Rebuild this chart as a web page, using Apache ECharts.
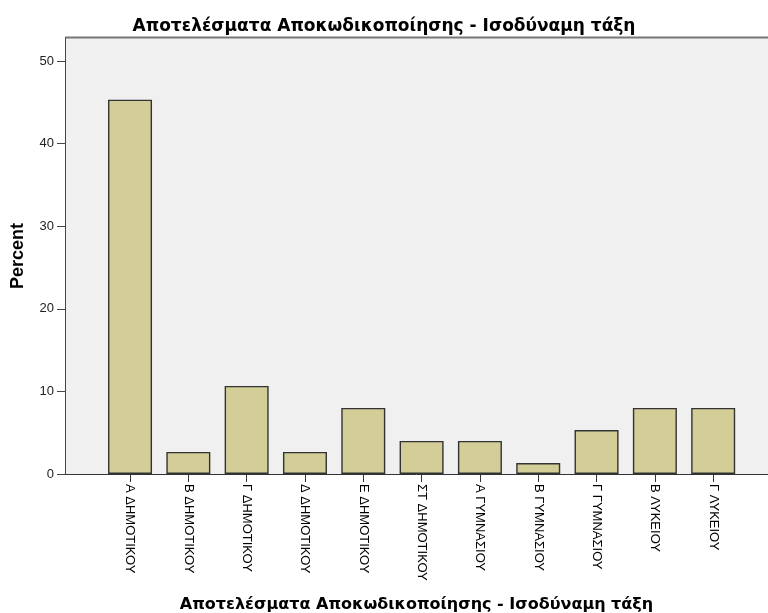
<!DOCTYPE html>
<html>
<head>
<meta charset="utf-8">
<script src="https://cdn.jsdelivr.net/npm/echarts@6/dist/echarts.min.js"></script>
<style>
  html, body { margin: 0; padding: 0; background: #fff; }
  #chart { width: 768px; height: 613px; }
</style>
</head>
<body>
<div id="chart"></div>
<script>
// data (percent, n = 75)
var categories = ['Α ΔΗΜΟΤΙΚΟΥ', 'Β ΔΗΜΟΤΙΚΟΥ', 'Γ ΔΗΜΟΤΙΚΟΥ', 'Δ ΔΗΜΟΤΙΚΟΥ', 'Ε ΔΗΜΟΤΙΚΟΥ', 'ΣΤ ΔΗΜΟΤΙΚΟΥ',
  'Α ΓΥΜΝΑΣΙΟΥ', 'Β ΓΥΜΝΑΣΙΟΥ', 'Γ ΓΥΜΝΑΣΙΟΥ', 'Β ΛΥΚΕΙΟΥ', 'Γ ΛΥΚΕΙΟΥ']
var percent = [45.33, 2.67, 10.67, 2.67, 8.0, 4.0, 4.0, 1.33, 5.33, 8.0, 8.0]
var yTicks = [0, 10, 20, 30, 40, 50]
var catIndex = categories.map(function (c, i) { return i })

var titleText = 'Αποτελέσματα Αποκωδικοποίησης - Ισοδύναμη τάξη'
var font = 'Liberation Sans, Arial, sans-serif'
var titleFont = 'DejaVu Sans, Verdana, sans-serif'

var chart = echarts.init(document.getElementById('chart'))
chart.setOption({
  animation: false,
  title: {
    text: titleText,
    left: 'center',
    top: 13,
    textStyle: { fontFamily: titleFont, fontSize: 17, fontWeight: 'bold', color: '#000' }
  },
  grid: {
    left: 65,
    top: 38,
    right: 0,
    bottom: 139,
    outerBoundsMode: 'none',
    show: true,
    backgroundColor: '#f0f0f0',
    borderWidth: 0
  },
  xAxis: {
    type: 'value',
    min: -1.115,
    max: 10.94,
    name: titleText,
    nameLocation: 'middle',
    nameGap: 123,
    nameTextStyle: { fontFamily: titleFont, fontSize: 16, fontWeight: 'bold', color: '#000' },
    splitLine: { show: false },
    axisLine: { show: true, onZero: false, lineStyle: { color: '#333', width: 1 } },
    axisTick: { show: true, customValues: catIndex, length: 8, lineStyle: { color: '#333' } },
    axisLabel: {
      customValues: catIndex,
      rotate: -90,
      margin: 10,
      fontFamily: font,
      fontSize: 13,
      color: '#000',
      formatter: function (v) { return categories[Math.round(v)] }
    }
  },
  yAxis: {
    type: 'value',
    min: 0,
    max: 52.8,
    name: 'Percent',
    nameLocation: 'middle',
    nameGap: 38,
    nameTextStyle: { fontFamily: font, fontSize: 18, fontWeight: 'bold', color: '#000' },
    splitLine: { show: false },
    axisLine: { show: true, onZero: false, lineStyle: { color: '#444', width: 1 } },
    axisTick: { show: true, customValues: yTicks, length: 8, lineStyle: { color: '#444' } },
    axisLabel: { customValues: yTicks, margin: 11, fontFamily: font, fontSize: 13, color: '#222' }
  },
  graphic: [{
    type: 'line',
    shape: { x1: 65, y1: 37.5, x2: 768, y2: 37.5 },
    style: { stroke: '#777', lineWidth: 2 }
  }],
  series: [{
    type: 'bar',
    barWidth: 44,
    data: percent.map(function (v, i) { return [i, v] }),
    itemStyle: { color: '#d3ce98', borderColor: '#333', borderWidth: 1.4 }
  }]
})
</script>
</body>
</html>
